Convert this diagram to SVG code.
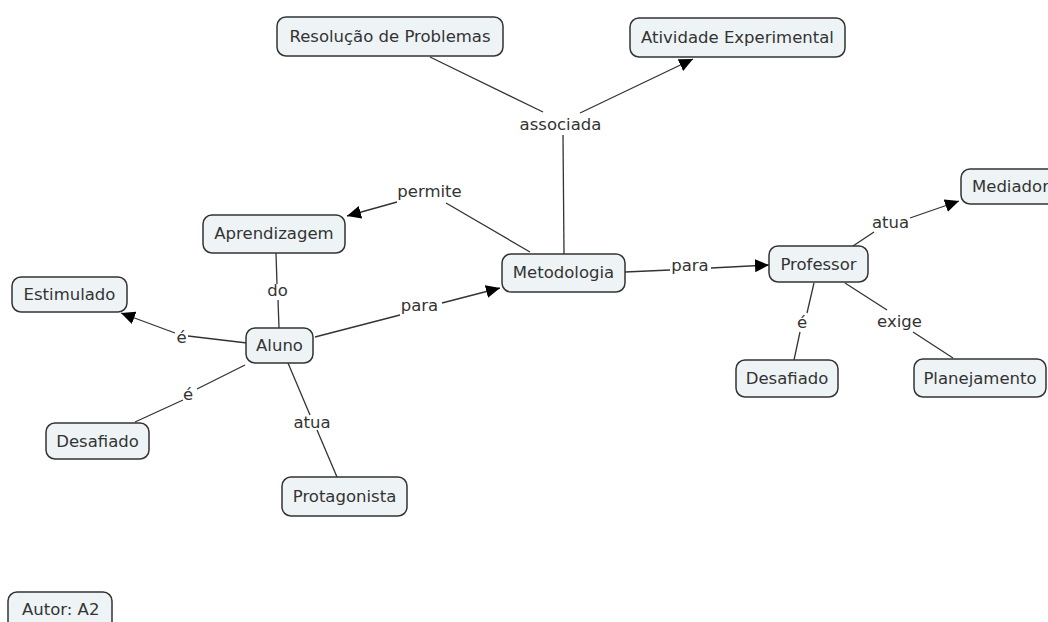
<svg xmlns="http://www.w3.org/2000/svg" width="1048" height="622" viewBox="0 0 1048 622">
  <style>
    .node rect { fill: #eef3f6; stroke: #333333; stroke-width: 1.5; }
    text { font-family: "DejaVu Sans", Verdana, sans-serif; font-size: 16.5px; fill: #333333; }
    .node text { text-anchor: middle; }
    .label { text-anchor: middle; }
    .links line { stroke: #333333; stroke-width: 1.3; fill: none; }
    .links line.arrow { marker-end: url(#head); }
  </style>
  <defs>
    <marker id="head" markerUnits="userSpaceOnUse" markerWidth="15" markerHeight="13" refX="14" refY="6.5" orient="auto">
      <path d="M0,0 L14,6.5 L0,13 z" fill="#000000"/>
    </marker>
  </defs>
  <rect width="1048" height="622" fill="#ffffff"/>

  <!-- connectors -->
  <g id="connectors" class="links">
    <line x1="430" y1="57" x2="543" y2="112"/>
    <line class="arrow" x1="580" y1="113" x2="693" y2="59"/>
    <line x1="563" y1="135" x2="564" y2="254"/>
    <line x1="530" y1="252" x2="446" y2="203"/>
    <line class="arrow" x1="397" y1="202" x2="347" y2="216"/>
    <line x1="276" y1="253" x2="277" y2="284"/>
    <line x1="278" y1="300" x2="279" y2="328"/>
    <line x1="247" y1="343" x2="188" y2="336"/>
    <line class="arrow" x1="175" y1="333" x2="121" y2="313"/>
    <line x1="245" y1="365" x2="197" y2="389"/>
    <line x1="183" y1="400" x2="135" y2="422"/>
    <line x1="288" y1="363" x2="310" y2="415"/>
    <line x1="317" y1="430" x2="337" y2="477"/>
    <line x1="315" y1="337" x2="400" y2="315"/>
    <line class="arrow" x1="442" y1="303" x2="500" y2="288"/>
    <line x1="625" y1="272" x2="670" y2="270"/>
    <line class="arrow" x1="711" y1="268" x2="769" y2="265"/>
    <line x1="853" y1="246" x2="874" y2="232"/>
    <line class="arrow" x1="910" y1="218" x2="959" y2="201"/>
    <line x1="814" y1="283" x2="807" y2="313"/>
    <line x1="800" y1="332" x2="794" y2="360"/>
    <line x1="845" y1="283" x2="887" y2="310"/>
    <line x1="913" y1="332" x2="953" y2="358"/>
  </g>

  <!-- link labels -->
  <g id="labels">
    <text class="label" x="560.5" y="130">associada</text>
    <text class="label" x="429.5" y="197">permite</text>
    <text class="label" x="277.5" y="296">do</text>
    <text class="label" x="181.5" y="343">é</text>
    <text class="label" x="419.5" y="311">para</text>
    <text class="label" x="188" y="400">é</text>
    <text class="label" x="312" y="428">atua</text>
    <text class="label" x="690" y="271">para</text>
    <text class="label" x="890.5" y="228">atua</text>
    <text class="label" x="802" y="328">é</text>
    <text class="label" x="899.5" y="327">exige</text>
  </g>

  <!-- concepts -->
  <g id="resolucao" class="node"><rect x="277" y="17" width="226" height="39" rx="9"/><text x="390" y="42">Resolução de Problemas</text></g>
  <g id="atividade" class="node"><rect x="630" y="18" width="215" height="39" rx="9"/><text x="737.5" y="43">Atividade Experimental</text></g>
  <g id="aprendizagem" class="node"><rect x="203" y="215" width="142" height="38" rx="9"/><text x="274" y="239">Aprendizagem</text></g>
  <g id="estimulado" class="node"><rect x="12" y="277" width="115" height="35" rx="9"/><text x="69.5" y="300">Estimulado</text></g>
  <g id="aluno" class="node"><rect x="246" y="328" width="67" height="35" rx="9"/><text x="279.5" y="351">Aluno</text></g>
  <g id="desafiado-aluno" class="node"><rect x="46" y="423" width="103" height="36" rx="9"/><text x="97.5" y="447">Desafiado</text></g>
  <g id="protagonista" class="node"><rect x="282" y="477" width="125" height="39" rx="9"/><text x="344.5" y="502">Protagonista</text></g>
  <g id="metodologia" class="node"><rect x="502" y="254" width="123" height="38" rx="9"/><text x="563.5" y="278">Metodologia</text></g>
  <g id="professor" class="node"><rect x="769" y="246" width="99" height="36" rx="9"/><text x="818.5" y="270">Professor</text></g>
  <g id="mediador" class="node"><rect x="961" y="169" width="98" height="35" rx="9"/><text x="972" y="192" style="text-anchor:start">Mediador</text></g>
  <g id="desafiado-professor" class="node"><rect x="736" y="360" width="102" height="37" rx="9"/><text x="787" y="384">Desafiado</text></g>
  <g id="planejamento" class="node"><rect x="914" y="359" width="132" height="38" rx="9"/><text x="980" y="384">Planejamento</text></g>
  <g id="autor" class="node"><rect x="8" y="592" width="104" height="40" rx="9"/><text x="22" y="615" style="text-anchor:start">Autor: A2</text></g>
</svg>
